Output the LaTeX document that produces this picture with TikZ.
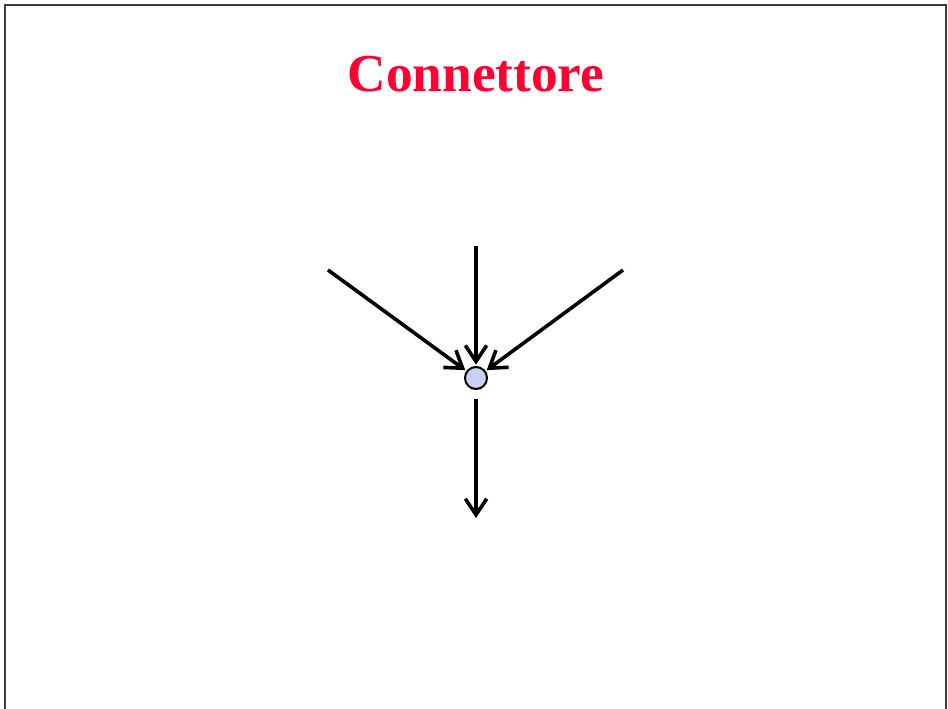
\documentclass[tikz,border=0pt]{standalone}
\usepackage{fontspec}
\setmainfont{Liberation Serif}
\usetikzlibrary{arrows.meta}
\definecolor{titlered}{RGB}{255,0,51}
\definecolor{dotblue}{RGB}{200,208,245}
\definecolor{framegray}{RGB}{60,60,60}
\begin{document}
\begin{tikzpicture}[x=0.75pt,y=-0.75pt,
  arr/.style={line width=2.7pt,-{Straight Barb[length=12pt,width=16pt,line width=2.7pt]}},
  dot/.style={circle,draw=black,line width=1.5pt,fill=dotblue,minimum size=16.5pt,inner sep=0pt}]
\useasboundingbox (0,0) rectangle (948,709);
\draw[framegray,line width=1.5pt] (4.5,720) -- (4.5,5.5) -- (945.5,5.5) -- (945.5,720);
\node[text=titlered,font=\bfseries\fontsize{40}{48}\selectfont] (title) at (476,74) {Connettore};
\node[dot] (c) at (476,378) {};
\coordinate (t) at (476,246);
\coordinate (l) at (328,270);
\coordinate (r) at (623,270);
\coordinate (b) at (476,518);
\draw[arr,shorten >=1pt] (t) -- (c);
\draw[arr,shorten >=1pt] (l) -- (c);
\draw[arr,shorten >=1pt] (r) -- (c);
\draw[arr,shorten <=7pt] (c) -- (b);
\end{tikzpicture}
\end{document}
